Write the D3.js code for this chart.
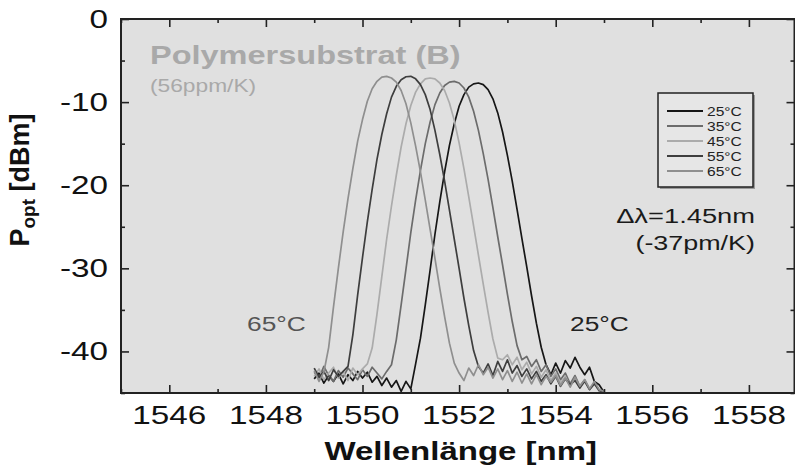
<!DOCTYPE html>
<html><head><meta charset="utf-8">
<script src="https://cdn.jsdelivr.net/npm/d3@7"></script>
<style>
body{margin:0;background:#fff}
svg{display:block}
text{font-family:"Liberation Sans",Arial,Helvetica,sans-serif}
</style>
</head><body>
<svg id="chart" width="795" height="469"></svg>
<script>
// ---------- data ----------
const wavelengths = [1549.0,1549.1,1549.2,1549.3,1549.4,1549.5,1549.6,1549.7,1549.8,1549.9,
  1550.0,1550.1,1550.2,1550.3,1550.4,1550.5,1550.6,1550.7,1550.8,1550.9,
  1551.0,1551.1,1551.2,1551.3,1551.4,1551.5,1551.6,1551.7,1551.8,1551.9,
  1552.0,1552.1,1552.2,1552.3,1552.4,1552.5,1552.6,1552.7,1552.8,1552.9,
  1553.0,1553.1,1553.2,1553.3,1553.4,1553.5,1553.6,1553.7,1553.8,1553.9,
  1554.0,1554.1,1554.2,1554.3,1554.4,1554.5,1554.6,1554.7,1554.8,1554.9,1555.0];

const seriesNames = ["25°C","35°C","45°C","55°C","65°C"];

const p25 = [-43.3,-42.6,-43.8,-42.9,-43.6,-42.7,-43.9,-42.8,-43.5,-42.4,
  -43.2,-42.5,-43.7,-43.0,-44.1,-43.2,-44.3,-43.5,-44.8,-43.6,
  -44.5,-41.5,-38.4,-34.4,-30.2,-25.9,-22.0,-18.4,-15.2,-12.6,
  -10.5,-9.1,-8.2,-7.8,-7.7,-7.9,-8.5,-9.6,-11.3,-13.6,
  -16.4,-19.5,-22.9,-26.4,-29.8,-33.3,-36.6,-39.5,-41.6,-42.8,
  -41.4,-42.6,-41.1,-42.0,-40.7,-41.9,-42.8,-41.9,-43.6,-44.0,-44.9];

const p35 = [-42.5,-43.2,-41.8,-42.9,-43.6,-42.3,-43.1,-42.0,-42.7,-43.4,
  -42.2,-43.0,-41.9,-42.6,-43.3,-42.4,-41.6,-38.6,-34.4,-30.1,
  -25.7,-21.8,-18.2,-15.0,-12.4,-10.3,-8.9,-8.0,-7.6,-7.5,
  -7.7,-8.3,-9.4,-11.1,-13.4,-16.2,-19.3,-22.7,-26.2,-29.6,
  -33.1,-36.4,-39.3,-41.0,-40.6,-41.8,-41.0,-42.4,-41.6,-43.0,
  -42.1,-43.4,-42.6,-43.9,-42.9,-44.2,-43.4,-44.5,-43.8,-44.7,-45.0];

const p45 = [-43.0,-42.1,-43.4,-42.6,-41.9,-43.2,-42.4,-43.5,-42.0,-42.8,
  -42.1,-41.5,-39.6,-35.5,-31.0,-26.5,-22.5,-18.8,-15.4,-12.6,
  -10.4,-8.8,-7.8,-7.2,-7.1,-7.2,-7.7,-8.6,-10.1,-12.2,
  -14.9,-18.0,-21.4,-24.9,-28.4,-31.9,-35.3,-38.5,-40.8,-41.0,
  -40.4,-41.6,-40.7,-42.2,-41.3,-42.7,-41.8,-43.1,-42.2,-43.5,
  -42.6,-43.8,-43.0,-44.2,-43.3,-44.4,-43.5,-44.6,-43.8,-44.8,-45.0];

const p55 = [-42.0,-43.1,-42.4,-43.5,-42.2,-43.0,-42.4,-41.8,-38.0,-33.2,
  -28.7,-24.4,-20.5,-16.9,-13.9,-11.4,-9.4,-8.1,-7.3,-6.95,
  -6.9,-7.2,-7.9,-9.1,-10.9,-13.4,-16.3,-19.5,-23.0,-26.5,
  -30.0,-33.6,-36.9,-39.9,-41.8,-42.6,-41.5,-42.9,-41.2,-42.4,
  -41.0,-42.6,-41.7,-43.0,-42.1,-43.3,-42.4,-43.6,-42.8,-43.9,
  -43.0,-44.2,-43.3,-44.0,-43.5,-44.4,-43.6,-44.6,-43.9,-44.7,-44.9];

const p65 = [-42.3,-43.6,-42.5,-39.5,-34.6,-30.0,-25.6,-21.6,-18.0,-14.7,
  -12.1,-9.9,-8.4,-7.5,-7.0,-6.9,-7.1,-7.6,-8.6,-10.2,
  -12.5,-15.3,-18.4,-21.8,-25.3,-28.8,-32.4,-35.8,-39.0,-41.4,
  -42.6,-43.5,-42.0,-42.9,-41.6,-42.8,-41.9,-43.2,-42.1,-43.4,
  -42.3,-43.6,-42.5,-43.8,-42.7,-43.9,-42.8,-44.0,-43.0,-43.7,
  -42.9,-44.1,-43.2,-44.3,-43.1,-44.2,-43.4,-44.5,-43.6,-44.6,-44.8];

const seriesValues = [p25, p35, p45, p55, p65];
const seriesColors = ["#161616","#6c6c6c","#ababab","#3e3e3e","#8f8f8f"];

const xMajorTicks = [1546,1548,1550,1552,1554,1556,1558];
const xMinorTicks = [1545,1547,1549,1551,1553,1555,1557,1559];
const yMajorTicks = [0,-10,-20,-30,-40];
const yMinorTicks = [-5,-15,-25,-35,-45];

// ---------- layout ----------
const S = 1.3; // horizontal text stretch seen in the reference
const L = 121, R = 794.5, T = 19, B = 393;
const svg = d3.select("#chart");
const x = d3.scaleLinear().domain([1545, 1559]).range([L, L + 14 * 48.3]);
const y = d3.scaleLinear().domain([-45, 0]).range([B, T]);

function txt(g, px, py, str, o) {
  o = o || {};
  return g.append("text")
    .attr("transform", `translate(${px},${py}) scale(${o.s || S},1)`)
    .attr("text-anchor", o.anchor || "start")
    .attr("font-size", o.size || 24)
    .attr("font-weight", o.weight || "normal")
    .attr("fill", o.fill || "#111")
    .text(str);
}

// plot background
svg.append("rect").attr("x", L).attr("y", T).attr("width", R - L).attr("height", B - T)
  .attr("fill", "#e0e0e0");

svg.append("defs").append("clipPath").attr("id", "clip")
  .append("rect").attr("x", L).attr("y", T).attr("width", R - L).attr("height", B - T);

// curves
const line = d3.line().x((d, i) => x(wavelengths[i])).y(d => y(d));
const plot = svg.append("g").attr("clip-path", "url(#clip)");
seriesValues.forEach((vals, k) => {
  plot.append("path").datum(vals)
    .attr("d", line)
    .attr("fill", "none")
    .attr("stroke", seriesColors[k])
    .attr("stroke-width", 1.7)
    .attr("stroke-linejoin", "round");
});

// ticks (inward) using d3 axes
function tickAxis(axisFn, scale, vals, size, transform) {
  svg.append("g").attr("transform", transform)
    .call(axisFn(scale).tickValues(vals).tickSize(size).tickFormat(""))
    .call(g => g.select(".domain").remove())
    .call(g => g.selectAll("line").attr("stroke", "#222").attr("stroke-width", 1.6));
}
tickAxis(d3.axisBottom, x, xMajorTicks, -8, `translate(0,${B})`);
tickAxis(d3.axisBottom, x, xMinorTicks.filter(v => x(v) < R), -4, `translate(0,${B})`);
tickAxis(d3.axisTop, x, xMajorTicks, -8, `translate(0,${T})`);
tickAxis(d3.axisTop, x, xMinorTicks.filter(v => x(v) < R), -4, `translate(0,${T})`);
tickAxis(d3.axisLeft, y, yMajorTicks, -8, `translate(${L},0)`);
tickAxis(d3.axisLeft, y, yMinorTicks, -4, `translate(${L},0)`);
tickAxis(d3.axisRight, y, yMajorTicks, -8, `translate(${R},0)`);
tickAxis(d3.axisRight, y, yMinorTicks, -4, `translate(${R},0)`);

// frame
svg.append("rect").attr("x", L).attr("y", T).attr("width", R - L).attr("height", B - T)
  .attr("fill", "none").attr("stroke", "#222").attr("stroke-width", 2);

// tick labels
const lab = svg.append("g");
xMajorTicks.forEach(v => txt(lab, x(v), 424, String(v), {anchor: "middle", size: 26, s: 1.28}));
yMajorTicks.forEach(v => txt(lab, 108, y(v) + 9, String(v), {anchor: "end", size: 26, s: 1.28}));

// axis titles
txt(svg, (L + R) / 2 + 3, 460, "Wellenlänge [nm]", {anchor: "middle", size: 26, weight: "bold", s: 1.27});
const yt = svg.append("text")
  .attr("transform", `translate(29,180) rotate(-90)`)
  .attr("text-anchor", "middle")
  .attr("font-size", 27).attr("font-weight", "bold").attr("fill", "#111");
yt.append("tspan").text("P");
yt.append("tspan").attr("font-size", 19).attr("dy", 6).text("opt");
yt.append("tspan").attr("dy", -6).text(" [dBm]");

// annotations
txt(svg, 150, 64, "Polymersubstrat (B)", {size: 25, weight: "bold", fill: "#a9a9a9", s: 1.3});
txt(svg, 150, 92, "(56ppm/K)", {size: 17.5, fill: "#a9a9a9", s: 1.3});
txt(svg, 755, 223, "Δλ=1.45nm", {anchor: "end", size: 19.5, fill: "#1a1a1a", s: 1.4});
txt(svg, 755, 250, "(-37pm/K)", {anchor: "end", size: 19.5, fill: "#1a1a1a", s: 1.38});
txt(svg, 247, 331, "65°C", {size: 19.5, fill: "#555", s: 1.35});
txt(svg, 570, 331, "25°C", {size: 19.5, fill: "#222", s: 1.35});

// legend
const lg = svg.append("g");
lg.append("rect").attr("x", 660).attr("y", 95).attr("width", 95).attr("height", 94).attr("fill", "#9a9a9a");
lg.append("rect").attr("x", 658).attr("y", 93).attr("width", 95).attr("height", 94)
  .attr("fill", "#e6e6e6").attr("stroke", "#222").attr("stroke-width", 1.5);
const rowY = d3.scalePoint().domain(seriesNames).range([111, 171]);
seriesNames.forEach((n, k) => {
  lg.append("line").attr("x1", 667).attr("x2", 703).attr("y1", rowY(n)).attr("y2", rowY(n))
    .attr("stroke", seriesColors[k]).attr("stroke-width", 2);
  txt(lg, 707, rowY(n) + 4.5, n, {size: 13, fill: "#222", s: 1.2});
});
</script>
</body></html>
